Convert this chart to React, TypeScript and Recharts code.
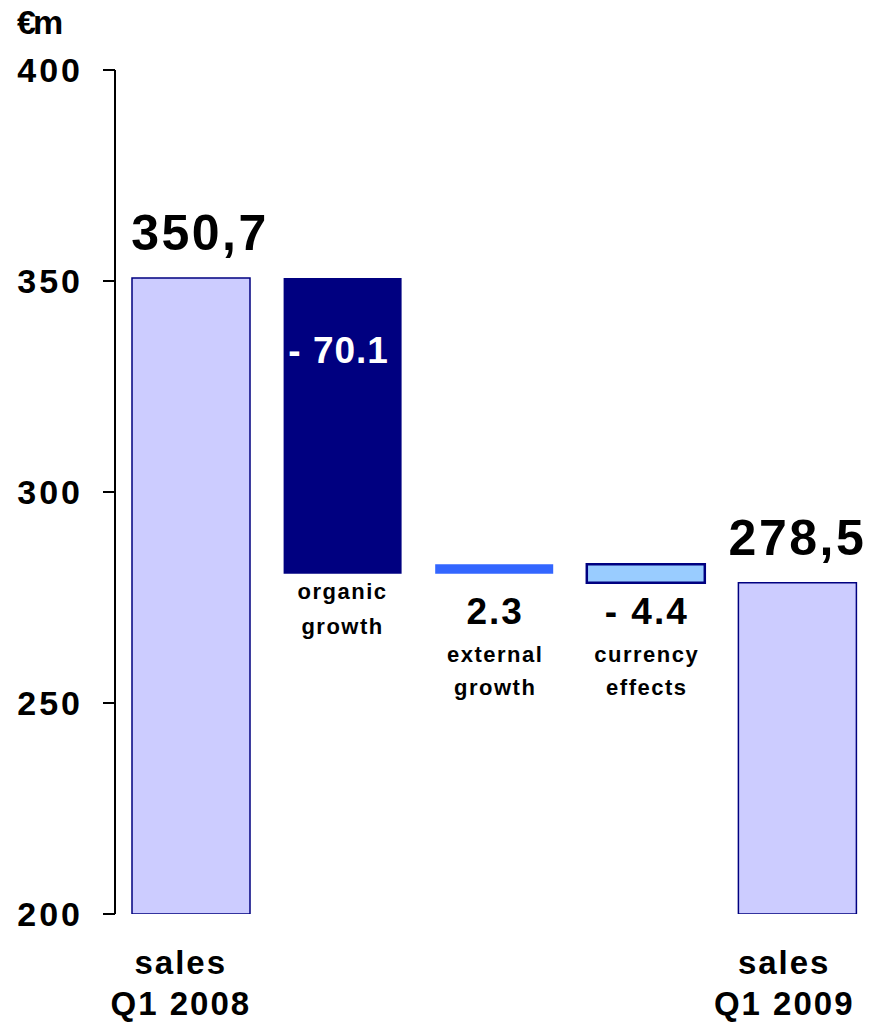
import { ComposedChart, Bar, XAxis, YAxis, Cell, LabelList } from "recharts";

const categories = ["sales Q1 2008", "organic growth", "external growth", "currency effects", "sales Q1 2009"];
const categoryLines = [
  ["sales", "Q1 2008"],
  ["organic", "growth"],
  ["external", "growth"],
  ["currency", "effects"],
  ["sales", "Q1 2009"],
];
const amounts = [350.7, -70.1, 2.3, -4.4, 278.5];
const valueLabels = ["350,7", "- 70.1", "2.3", "- 4.4", "278,5"];
const isTotal = [true, false, false, false, true];
const yTicks = [200, 250, 300, 350, 400];
const axisFloor = 200;

const fills = ["#CCCCFF", "#000080", "#3366FF", "#99CCFF", "#CCCCFF"];
const strokes = ["#000080", "none", "none", "#000080", "#000080"];

const FONT = "'Liberation Sans', Arial, sans-serif";

// waterfall: totals start at the axis floor, steps float on the running total
let running = 0;
const chartData = categories.map((name, i) => {
  let range: [number, number];
  if (isTotal[i]) {
    range = [axisFloor, amounts[i]];
    running = amounts[i];
  } else {
    const next = Math.round((running + amounts[i]) * 10) / 10;
    range = [Math.min(running, next), Math.max(running, next)];
    running = next;
  }
  return { name, range };
});

const YTick = (props: any) => {
  const { x, y, payload } = props;
  return (
    <text x={x} y={y} dy="0.355em" textAnchor="end" fontFamily={FONT} fontWeight="bold" fontSize={34} letterSpacing={3} fill="#000">
      {payload.value}
    </text>
  );
};

const XTick = (props: any) => {
  const { x, y, payload } = props;
  const i = payload.index;
  if (!isTotal[i]) return null;
  const [a, b] = categoryLines[i];
  const dx = i === 0 ? -10 : -13;
  return (
    <g fontFamily={FONT} fontWeight="bold" fontSize={33} letterSpacing={2} fill="#000" textAnchor="middle">
      <text x={x + dx} y={y + 60}>{a}</text>
      <text x={x + dx} y={y + 101}>{b}</text>
    </g>
  );
};

const BarLabel = (props: any) => {
  const { x, y, width, height, index } = props;
  const cx = x + width / 2;
  const top = Math.min(y, y + height);
  const bottom = Math.max(y, y + height);
  const text = valueLabels[index];
  if (isTotal[index]) {
    const dx = index === 0 ? 9 : 0;
    return (
      <text x={cx + dx} y={top - 28} textAnchor="middle" fontFamily={FONT} fontWeight="bold" fontSize={50} letterSpacing={2.5} fill="#000">
        {text}
      </text>
    );
  }
  const [a, b] = categoryLines[index];
  if (index === 1) {
    return (
      <g fontFamily={FONT} fontWeight="bold" textAnchor="middle">
        <text x={cx - 4} y={top + 85} fontSize={37} letterSpacing={1} fill="#fff">{text}</text>
        <text x={cx} y={bottom + 25} fontSize={22} letterSpacing={1.5} fill="#000">{a}</text>
        <text x={cx} y={bottom + 60} fontSize={22} letterSpacing={1.5} fill="#000">{b}</text>
      </g>
    );
  }
  return (
    <g fontFamily={FONT} fontWeight="bold" textAnchor="middle" fill="#000">
      <text x={cx + 1} y={top + 60} fontSize={37} letterSpacing={2}>{text}</text>
      <text x={cx + 1} y={top + 98} fontSize={22} letterSpacing={1.5}>{a}</text>
      <text x={cx + 1} y={top + 131} fontSize={22} letterSpacing={1.5}>{b}</text>
    </g>
  );
};

export default function App() {
  return (
    <div style={{ position: "absolute", left: 0, top: 0, width: 869, height: 1023, overflow: "hidden", background: "#fff" }}>
      <div
        style={{
          position: "absolute",
          left: 17,
          top: 2,
          fontFamily: FONT,
          fontWeight: "bold",
          fontSize: 34,
          letterSpacing: -3,
          lineHeight: "40px",
          color: "#000",
        }}
      >
        €m
      </div>
      <ComposedChart width={873} height={1023} data={chartData} margin={{ top: 70, right: 0, bottom: 0, left: 0 }}>
        <XAxis dataKey="name" axisLine={false} tickLine={false} tickSize={0} tickMargin={0} height={109} tick={<XTick />} interval={0} />
        <YAxis
          type="number"
          domain={[200, 400]}
          ticks={yTicks}
          allowDataOverflow
          width={115}
          axisLine={{ stroke: "#000", strokeWidth: 2 }}
          tickLine={{ stroke: "#000", strokeWidth: 2 }}
          tickSize={12}
          tickMargin={20}
          tick={<YTick />}
        />
        <Bar dataKey="range" barSize={118} isAnimationActive={false}>
          {chartData.map((d, i) => (
            <Cell key={d.name} fill={fills[i]} stroke={strokes[i]} strokeWidth={i === 3 ? 2.5 : 1.5} />
          ))}
          <LabelList dataKey="range" content={<BarLabel />} />
        </Bar>
      </ComposedChart>
    </div>
  );
}
